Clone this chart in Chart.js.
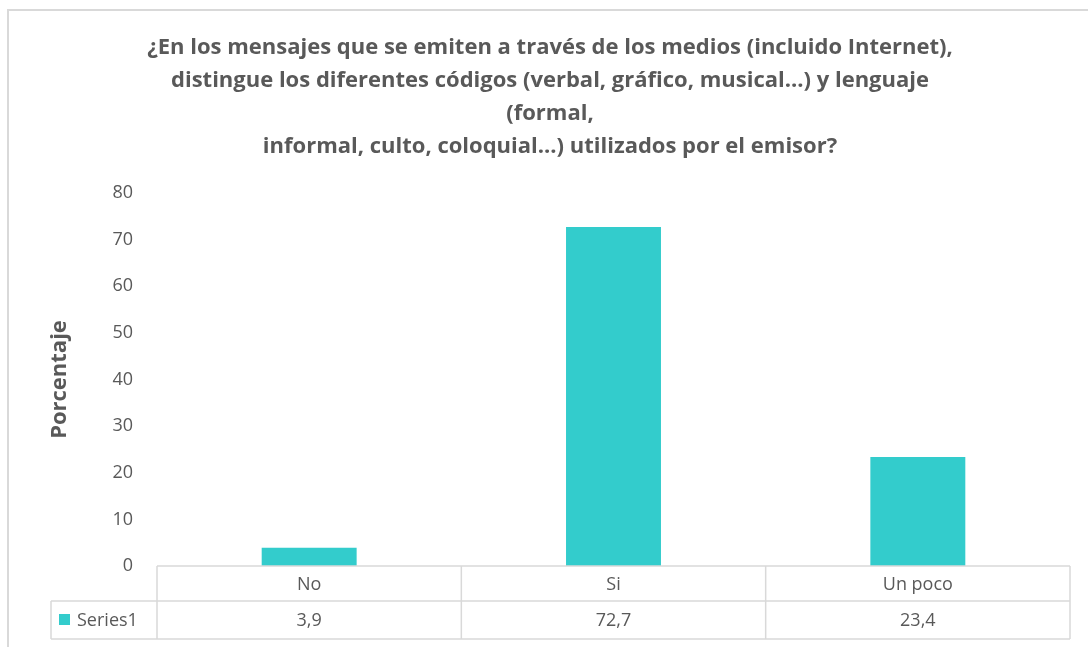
<!DOCTYPE html>
<html>
<head>
<meta charset="utf-8">
<script src="https://cdn.jsdelivr.net/npm/chart.js@4"></script>
<style>
	html, body { margin: 0; padding: 0; background: #fff; }
	#wrap { position: relative; width: 1088px; height: 647px; }
</style>
</head>
<body>
<div id="wrap"><canvas id="chart" width="1088" height="647"></canvas></div>
<script>
	var titleLines = [
		'¿En los mensajes que se emiten a través de los medios (incluido Internet),',
		'distingue los diferentes códigos (verbal, gráfico, musical...) y lenguaje',
		'(formal,',
		'informal, culto, coloquial...) utilizados por el emisor?'
	];
	var categories = ['No', 'Si', 'Un poco'];
	var seriesName = 'Series1';
	var values = [3.9, 72.7, 23.4];
	var yTicks = [0, 10, 20, 30, 40, 50, 60, 70, 80];

	var textColor = '#595959';
	var lineColor = '#d9d9d9';
	var barColor = '#33cccc';
	var fontFamily = "'Open Sans', sans-serif";

	/**
	 * outer frame + data table under the plot
	 */
	var tablePlugin = {
		id: 'dataTable',
		beforeDraw: function(chart) {
			var ctx = chart.ctx;
			ctx.save();
			ctx.strokeStyle = lineColor;
			ctx.lineWidth = 2;
			ctx.strokeRect(8, 10, 2000, 2000);
			ctx.restore();
		},
		afterDraw: function(chart) {
			var ctx = chart.ctx;
			var area = chart.chartArea;
			var x = chart.scales.x;
			var row1 = area.bottom, row2 = 601, row3 = 639;
			var keyLeft = 51;
			var step = (area.right - area.left) / categories.length;

			ctx.save();
			ctx.strokeStyle = lineColor;
			ctx.lineWidth = 1.5;
			ctx.beginPath();
			ctx.moveTo(area.left, row1); ctx.lineTo(area.right, row1);
			ctx.moveTo(keyLeft, row2); ctx.lineTo(area.right, row2);
			ctx.moveTo(keyLeft, row3); ctx.lineTo(area.right, row3);
			ctx.moveTo(keyLeft, row2); ctx.lineTo(keyLeft, row3);
			for (var i = 0; i <= categories.length; i++) {
				var lx = area.left + step * i;
				ctx.moveTo(lx, row1); ctx.lineTo(lx, row3);
			}
			ctx.stroke();

			ctx.fillStyle = textColor;
			ctx.font = '18px ' + fontFamily;
			ctx.textAlign = 'center';
			ctx.textBaseline = 'middle';
			categories.forEach(function(cat, idx) {
				var cx = x.getPixelForValue(idx);
				ctx.fillText(cat, cx, (row1 + row2) / 2 + 1);
				ctx.fillText(values[idx].toFixed(1).replace('.', ','), cx, (row2 + row3) / 2 + 1);
			});

			// legend key
			ctx.fillStyle = barColor;
			ctx.fillRect(59, 614, 11, 11);
			ctx.fillStyle = textColor;
			ctx.textAlign = 'left';
			ctx.fillText(seriesName, 77, (row2 + row3) / 2 + 1);
			ctx.restore();
		}
	};

	var ctx = document.getElementById('chart');
	var myChart = new Chart(ctx, {
		type: 'bar',
		data: {
			labels: categories,
			datasets: [
				{
					label: seriesName,
					data: values,
					backgroundColor: barColor,
					borderWidth: 0,
					categoryPercentage: 1,
					barPercentage: 0.312
				}
			]
		},
		options: {
			responsive: false,
			animation: false,
			devicePixelRatio: 1,
			layout: {
				padding: { top: 14, right: 18, bottom: 81, left: 30 }
			},
			plugins: {
				legend: { display: false },
				tooltip: { enabled: false },
				title: {
					display: true,
					text: titleLines,
					color: textColor,
					font: { family: fontFamily, size: 22, weight: 'bold', lineHeight: '33px' },
					padding: { top: 17, bottom: 30 }
				}
			},
			scales: {
				x: {
					display: false
				},
				y: {
					min: 0,
					max: 80,
					afterBuildTicks: function(scale) {
						scale.ticks = yTicks.map(function(v) { return { value: v }; });
					},
					afterFit: function(scale) {
						scale.width = 127;
					},
					grid: { display: false, drawTicks: false },
					border: { display: false },
					ticks: {
						color: textColor,
						padding: 24,
						font: { family: fontFamily, size: 18 }
					},
					title: {
						display: true,
						text: 'Porcentaje',
						color: textColor,
						font: { family: fontFamily, size: 22, weight: 'bold' },
						padding: { top: 17, bottom: 0 }
					}
				}
			}
		},
		plugins: [tablePlugin]
	});
</script>
</body>
</html>
